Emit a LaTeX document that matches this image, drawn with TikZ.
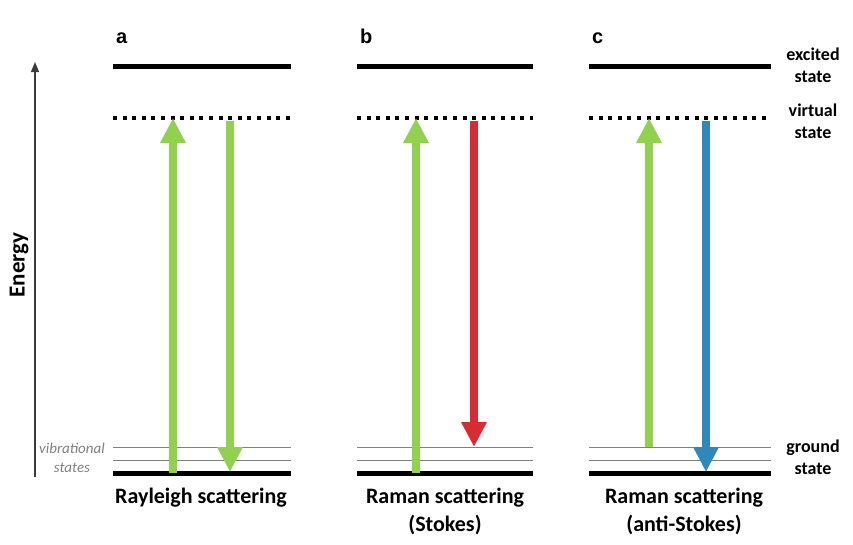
\documentclass[tikz,border=0pt]{standalone}
\usepackage{fontspec}
\setmainfont{Carlito}
\newfontfamily\labelfont{Liberation Sans}
\usetikzlibrary{arrows.meta}
\definecolor{photongreen}{RGB}{146,208,80}
\definecolor{photonred}{RGB}{214,45,50}
\definecolor{photonblue}{RGB}{46,137,186}
\definecolor{axisgray}{RGB}{60,60,60}

\begin{document}
\begin{tikzpicture}[
        x=1pt, y=-1pt,
        level/.style={line width=5pt, black},
        virtual/.style={line width=4pt, dash pattern=on 4pt off 5.6pt, black},
        vib/.style={line width=1pt, gray},
        photon/.style={line width=8pt, -{Triangle[width=24pt,length=25pt]}},
        panellabel/.style={font=\labelfont\fontsize{20}{22}\selectfont\bfseries, anchor=base west, inner sep=0pt},
        statelabel/.style={font=\fontsize{18}{22}\selectfont\bfseries, align=center, anchor=base, inner sep=0pt},
        caption/.style={font=\fontsize{22}{28}\selectfont\bfseries, align=center, anchor=base, inner sep=0pt}
    ]
    \useasboundingbox (0,0) rectangle (853,544);

    % energy axis
    \coordinate (axisLow) at (35,477);
    \coordinate (axisHigh) at (35,62);
    \draw[axisgray, line width=1.2pt, -{Triangle[width=8pt,length=10pt]}] (axisLow) -- (axisHigh);
    \node[rotate=90, font=\fontsize{23}{26}\selectfont\bfseries] (energy) at (19,265) {Energy};

    % levels of the three panels
    \foreach \p/\l/\r in {a/113/291, b/357/533, c/589/771} {
        \coordinate (\p-exc-l) at (\l,66);  \coordinate (\p-exc-r) at (\r,66);
        \coordinate (\p-vir-l) at (\l,118); \coordinate (\p-vir-r) at (\r,118);
        \coordinate (\p-v1-l) at (\l,447);  \coordinate (\p-v1-r) at (\r,447);
        \coordinate (\p-v2-l) at (\l,460);  \coordinate (\p-v2-r) at (\r,460);
        \coordinate (\p-gnd-l) at (\l,473); \coordinate (\p-gnd-r) at (\r,473);
        \draw[level] (\p-exc-l) -- (\p-exc-r);
        \draw[virtual] (\p-vir-l) -- (\p-vir-r);
        \draw[vib] (\p-v1-l) -- (\p-v1-r);
        \draw[vib] (\p-v2-l) -- (\p-v2-r);
        \draw[level] (\p-gnd-l) -- (\p-gnd-r);
        \node[panellabel] (lab-\p) at (\l+3,43) {\p};
    }

    % photons
    \coordinate (aUpS) at (173,473); \coordinate (aUpE) at (173,118);
    \coordinate (aDnS) at (230,121); \coordinate (aDnE) at (230,472);
    \coordinate (bUpS) at (416,473); \coordinate (bUpE) at (416,118);
    \coordinate (bDnS) at (474,121); \coordinate (bDnE) at (474,447);
    \coordinate (cUpS) at (649,447); \coordinate (cUpE) at (649,118);
    \coordinate (cDnS) at (706,121); \coordinate (cDnE) at (706,472);
    \draw[photon, photongreen] (aUpS) -- (aUpE);
    \draw[photon, photongreen] (aDnS) -- (aDnE);
    \draw[photon, photongreen] (bUpS) -- (bUpE);
    \draw[photon, photonred] (bDnS) -- (bDnE);
    \draw[photon, photongreen] (cUpS) -- (cUpE);
    \draw[photon, photonblue] (cDnS) -- (cDnE);

    % state names (anchored at the baseline of the last line)
    \node[statelabel] (excited) at (813,82) {excited\\state};
    \node[statelabel] (virtual) at (813,138) {virtual\\state};
    \node[statelabel] (ground) at (813,474) {ground\\state};
    \node[font=\fontsize{15}{19}\selectfont\itshape, text=gray, align=center, anchor=base, inner sep=0pt] (vibstates) at (72,472) {vibrational\\states};

    % captions
    \node[caption] (capA) at (201,503) {Rayleigh scattering};
    \node[caption] (capB) at (445,531) {Raman scattering\\(Stokes)};
    \node[caption] (capC) at (684,531) {Raman scattering\\(anti-Stokes)};
\end{tikzpicture}
\end{document}
